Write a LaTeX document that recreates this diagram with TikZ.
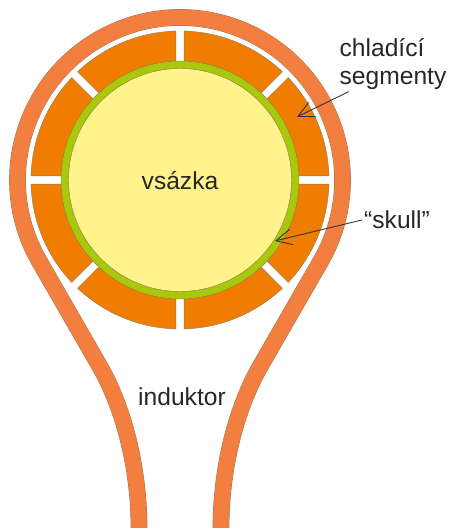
\documentclass[tikz,border=0pt]{standalone}
\usepackage{fontspec}
\setmainfont{Liberation Sans}
\usetikzlibrary{arrows.meta}
\definecolor{coilorange}{HTML}{F27F3F}
\definecolor{segorange}{HTML}{F07C00}
\definecolor{skullgreen}{HTML}{A9C80A}
\definecolor{chargeyellow}{HTML}{FFF38A}
\definecolor{edgegray}{HTML}{8F7A5A}
\tikzset{
  lbl/.style={inner sep=1pt,text=black!85,font=\fontsize{14}{16}\selectfont},
  coil/.style={draw=edgegray,line width=0.25pt,double=coilorange,double distance=9pt},
  segment/.style={draw=edgegray,line width=0.25pt,fill=segorange},
  pointer/.style={-{Straight Barb[length=9pt,width=9pt]},line width=0.5pt,black!80}
}
\begin{document}
\begin{tikzpicture}[scale=0.02]
\useasboundingbox (0,0) rectangle (450,528);

\draw[coil] (139,0) .. controls (139,60) and (124,120) .. (99,163) -- (39.3,266.75)
  arc (210:-30:162.5) -- (261,163) .. controls (236,120) and (221,60) .. (221,0);

\begin{scope}[shift={(180,348)}]
\foreach \ang in {0,45,...,315}
  \draw[segment] (\ang+1.6:149) arc (\ang+1.6:\ang+43.4:149) -- (\ang+43:117)
    arc (\ang+43:\ang+2:117) -- cycle;
\draw[draw=edgegray,line width=0.25pt,fill=skullgreen] (0,0) circle (119);
\draw[draw=edgegray,line width=0.25pt,fill=chargeyellow] (0,0) circle (111.5);
\end{scope}

\node[lbl] (vsazka) at (180,347) {vsázka};
\node[lbl] (induktor) at (182,131) {induktor};
\node[lbl,align=left] (chladici) at (393,464) {chladící\\segmenty};
\node[lbl] (skull) at (397,308) {“skull”};

\coordinate (segtip) at (297,411);
\coordinate (skulltip) at (275,287);
\draw[pointer] (chladici.212) -- (segtip);
\draw[pointer] (skull.west) -- (skulltip);
\end{tikzpicture}
\end{document}
